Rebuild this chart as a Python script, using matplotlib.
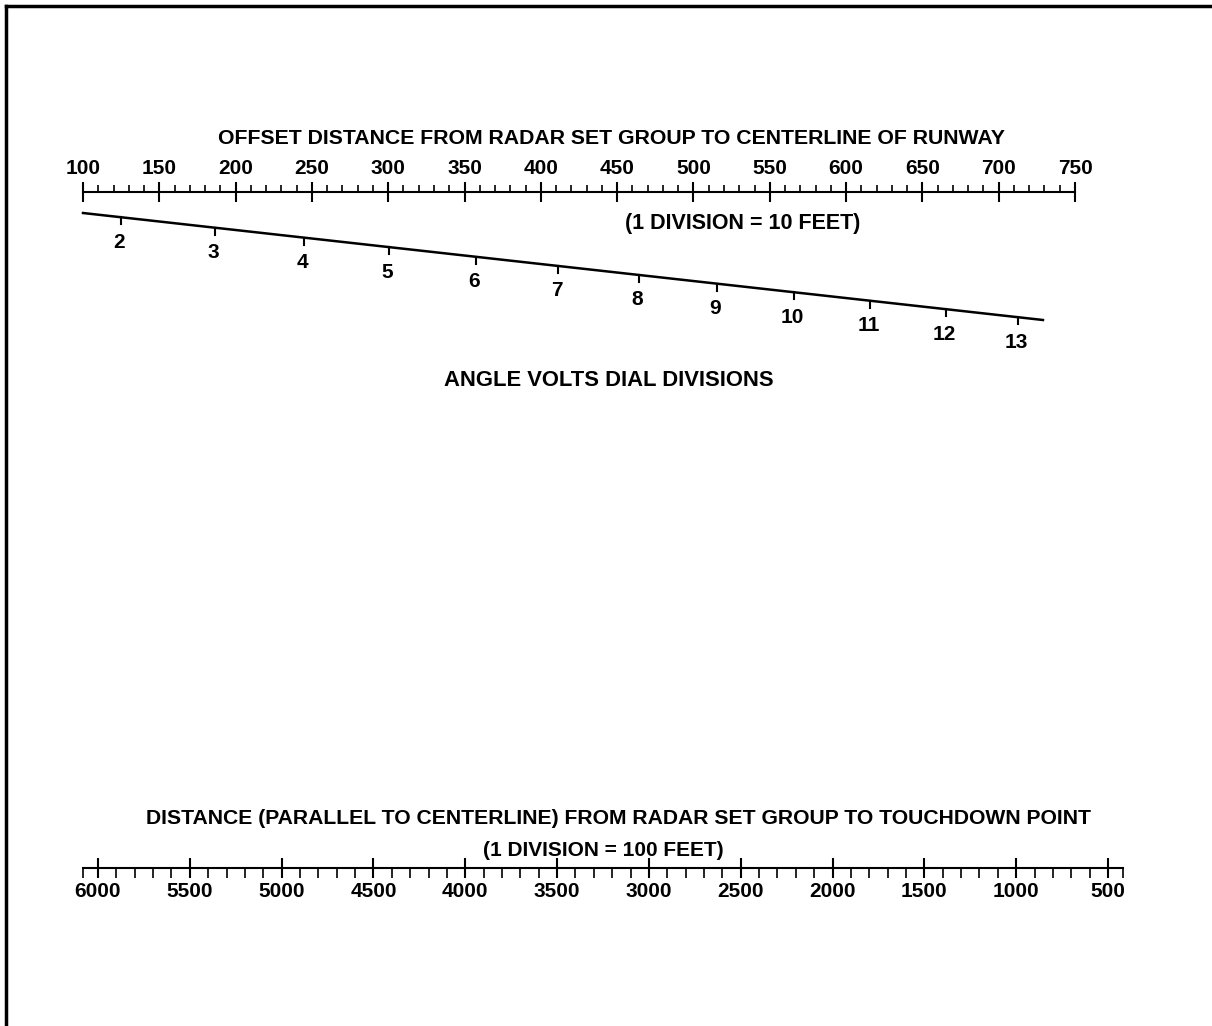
import matplotlib
matplotlib.use("Agg")
import matplotlib.pyplot as plt
import matplotlib.transforms as mtransforms
from matplotlib.lines import Line2D
from matplotlib.ticker import FixedLocator
import numpy as np

plt.rcParams['font.family'] = ['Liberation Sans', 'DejaVu Sans']
plt.rcParams['font.weight'] = 'bold'

# offset scale, feet (1 division = 10 feet)
offset_major = list(range(100, 751, 50))
offset_minor = list(range(100, 751, 10))

# distance scale, feet, runs right to left (1 division = 100 feet)
dist_major = list(range(500, 6001, 500))
dist_minor = list(range(500, 6001, 100))
dist_ends = [6080, 420]

# angle volts dial divisions, placed against the offset scale (feet)
dial_labels = ['2', '3', '4', '5', '6', '7', '8', '9', '10', '11', '12', '13']
dial_offset = [124.7, 186.5, 244.8, 300.5, 357.3, 411.2, 464.3, 515.2,
               565.9, 615.7, 665.3, 712.4]
dial_line_ends = [100, 729]

W, H = 1212, 1026
FS = 15
fig = plt.figure(figsize=(W / 100, H / 100), dpi=100)
fig.patch.set_facecolor('white')

def fy(py):
    return 1 - py / H

# --- frame (top and left edge of the page)
fig.add_artist(Line2D([6 / W, 6 / W], [0, fy(6)], transform=fig.transFigure,
                      color='black', lw=2.5))
fig.add_artist(Line2D([6 / W, 1], [fy(6), fy(6)], transform=fig.transFigure,
                      color='black', lw=2.5))

# --- top scale: offset distance
ax_top = fig.add_axes([83 / W, fy(192) - 0.01, 992 / W, 0.01])
ax_top.patch.set_visible(False)
for s in ['left', 'right', 'bottom']:
    ax_top.spines[s].set_visible(False)
ax_top.spines['top'].set_linewidth(1.5)
ax_top.set_xlim(offset_major[0], offset_major[-1])
ax_top.set_yticks([])
ax_top.xaxis.tick_top()
ax_top.set_xticks(offset_major)
ax_top.xaxis.set_minor_locator(FixedLocator(offset_minor))
ax_top.tick_params(which='major', direction='inout', length=15, width=1.5,
                   pad=2.5, labelsize=FS)
ax_top.tick_params(which='minor', direction='out', length=5, width=1.2)

fig.text(611 / W, fy(138), 'OFFSET DISTANCE FROM RADAR SET GROUP TO CENTERLINE OF RUNWAY',
         ha='center', va='center', fontsize=15.3)
fig.text(743 / W, fy(224), '(1 DIVISION = 10 FEET)',
         ha='center', va='center', fontsize=15.5)

# --- angle volts dial line
trans = mtransforms.blended_transform_factory(ax_top.transData, fig.transFigure)
line_y = [fy(213), fy(320)]
ax_top.plot(dial_line_ends, line_y, color='black', lw=1.8,
            transform=trans, clip_on=False)
dial_y = np.interp(dial_offset, dial_line_ends, line_y)
for x, y, lab in zip(dial_offset, dial_y, dial_labels):
    ax_top.plot([x, x], [y, y - 7 / H], color='black', lw=1.5,
                transform=trans, clip_on=False)
    ax_top.text(x - 1, y - 25 / H, lab, ha='center', va='center',
                fontsize=FS, transform=trans)

fig.text(609 / W, fy(381), 'ANGLE VOLTS DIAL DIVISIONS',
         ha='center', va='center', fontsize=15.8)

# --- bottom scale: distance to touchdown point
px6000, px500 = 98, 1108
k = (px500 - px6000) / (6000 - 500)
left_px = px6000 - (dist_ends[0] - 6000) * k
right_px = px500 + (500 - dist_ends[1]) * k
ax_bot = fig.add_axes([left_px / W, fy(868), (right_px - left_px) / W, 0.01])
ax_bot.patch.set_visible(False)
for s in ['left', 'right', 'top']:
    ax_bot.spines[s].set_visible(False)
ax_bot.spines['bottom'].set_linewidth(1.5)
ax_bot.set_xlim(dist_ends[0], dist_ends[1])
ax_bot.set_yticks([])
ax_bot.set_xticks(dist_major)
ax_bot.xaxis.set_minor_locator(FixedLocator(dist_minor + dist_ends))
ax_bot.tick_params(which='major', direction='inout', length=15, width=1.5,
                   pad=2.5, labelsize=FS)
ax_bot.tick_params(which='minor', direction='out', length=7, width=1.2)

fig.text(619 / W, fy(818),
         'DISTANCE (PARALLEL TO CENTERLINE) FROM RADAR SET GROUP TO TOUCHDOWN POINT',
         ha='center', va='center', fontsize=15.2)
fig.text(603 / W, fy(850), '(1 DIVISION = 100 FEET)',
         ha='center', va='center', fontsize=FS)

fig.savefig('out.png', dpi=100)
